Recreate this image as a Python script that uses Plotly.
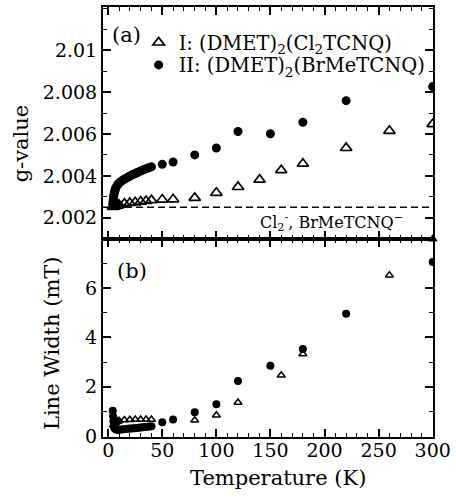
import plotly.graph_objects as go

# ---------------- data ----------------
# (a) g-value, compound I (open triangles)
T_I_g = [4.5, 5, 6, 7, 8, 9, 10, 15, 20, 25, 30, 35, 40, 50, 60, 80, 100, 120, 140, 160, 180, 220, 260, 300]
g_I = [2.00252, 2.00253, 2.00255, 2.00257, 2.00258, 2.00260, 2.00262, 2.00267, 2.00271, 2.00274, 2.00277, 2.00280, 2.00284,
       2.00287, 2.00288, 2.00295, 2.00319, 2.00347, 2.00382, 2.00427, 2.00458, 2.00533, 2.00615, 2.00647]

# (a) g-value, compound II (filled circles)
T_II_g = [4.2, 4.4, 4.6, 4.8, 5.0, 5.3, 5.6, 6.0, 6.5, 7, 8, 9, 10, 11, 12, 13.5, 15, 16.5, 18, 19.5, 21, 22.5, 24,
          25.5, 27, 28.5, 30, 32, 34, 36, 38, 40, 50, 60, 80, 100, 120, 150, 180, 220, 300]
g_II = [2.00262, 2.00270, 2.00279, 2.00289, 2.00299, 2.00309, 2.00318, 2.00327, 2.00335, 2.00342, 2.00352, 2.00359,
        2.00365, 2.00370, 2.00374, 2.00380, 2.00384, 2.00388, 2.00393, 2.00397, 2.00402, 2.00406, 2.00409, 2.00412,
        2.00416, 2.00420, 2.00423, 2.00428, 2.00432, 2.00436, 2.00440, 2.00443, 2.00455, 2.00466, 2.00500, 2.00533,
        2.00612, 2.00601, 2.00656, 2.00759, 2.00826]

# (b) line width, compound I (open triangles)
T_I_w = [5, 6, 7, 8, 9, 10, 15, 20, 25, 30, 35, 40, 80, 100, 120, 160, 180, 260, 300]
w_I = [0.45, 0.50, 0.55, 0.58, 0.60, 0.62, 0.65, 0.66, 0.67, 0.67, 0.67, 0.67, 0.64, 0.84, 1.36, 2.47, 3.33, 6.53, 8.0]

# (b) line width, compound II (filled circles)
T_II_w = [4.2, 4.5, 4.8, 5.2, 5.6, 6, 7, 8, 9, 10, 12, 14, 16, 18, 20, 22, 24, 26, 28, 30, 32, 34, 36, 38, 40,
          50, 60, 80, 100, 120, 150, 180, 220, 300]
w_II = [1.03, 0.80, 0.60, 0.45, 0.35, 0.30, 0.27, 0.25, 0.25, 0.25, 0.26, 0.27, 0.28, 0.29, 0.30, 0.31, 0.32,
        0.33, 0.34, 0.35, 0.36, 0.37, 0.38, 0.39, 0.40, 0.56, 0.67, 0.96, 1.29, 2.23, 2.85, 3.53, 4.96, 7.06]

g_ref = 2.0025  # Cl2TCNQ- / BrMeTCNQ- reference g value

x_ticks = [0, 50, 100, 150, 200, 250, 300]
g_ticks = [2.002, 2.004, 2.006, 2.008, 2.010]
g_tick_labels = ["2.002", "2.004", "2.006", "2.008", "2.01"]
w_ticks = [0, 2, 4, 6]
w_tick_labels = ["0", "2", "4", "6"]

name_I = "I: (DMET)<sub>2</sub>(Cl<sub>2</sub>TCNQ)"
name_II = "II: (DMET)<sub>2</sub>(BrMeTCNQ)"

# ---------------- figure ----------------
FONT = "DejaVu Serif"
split = 0.4606
xr = [-4.8, 300.3]

fig = go.Figure()

fig.add_trace(go.Scatter(x=T_I_g, y=g_I, mode="markers", name=name_I, legend="legend",
                         marker=dict(symbol="triangle-up-open", size=10, color="black", line=dict(width=1.7, color="black")),
                         xaxis="x", yaxis="y"))
fig.add_trace(go.Scatter(x=T_II_g, y=g_II, mode="markers", name=name_II, legend="legend2",
                         marker=dict(symbol="circle", size=9, color="black"),
                         xaxis="x", yaxis="y"))
fig.add_trace(go.Scatter(x=T_I_w, y=w_I, mode="markers", name=name_I, showlegend=False, cliponaxis=False,
                         marker=dict(symbol="triangle-up-open", size=7, color="black", line=dict(width=1.5, color="black")),
                         xaxis="x2", yaxis="y2"))
fig.add_trace(go.Scatter(x=T_II_w, y=w_II, mode="markers", name=name_II, showlegend=False,
                         marker=dict(symbol="circle", size=8, color="black"),
                         xaxis="x2", yaxis="y2"))

fig.add_shape(type="line", xref="x domain", yref="y", x0=0, x1=1, y0=g_ref, y1=g_ref,
              line=dict(color="black", width=1.5, dash="7px,4px"))

tickfont = dict(family=FONT, size=19, color="black")
common = dict(showline=True, linecolor="black", linewidth=2, mirror="allticks", ticks="inside",
              ticklen=8, tickwidth=1.5, tickcolor="black", showgrid=False, zeroline=False, tickfont=tickfont)
minor_style = dict(ticks="inside", ticklen=4, tickwidth=1.2, tickcolor="black")

fig.update_layout(
    width=456, height=499,
    margin=dict(l=103, r=19, t=5, b=62),
    paper_bgcolor="white", plot_bgcolor="white",
    font=dict(family=FONT, color="black"),
    xaxis=dict(domain=[0, 1], anchor="y", range=xr, tickmode="array", tickvals=x_ticks, showticklabels=False,
               minor=dict(dtick=10, tick0=0, **minor_style), **common),
    xaxis2=dict(domain=[0, 1], anchor="y2", range=xr, matches="x", tickmode="array", tickvals=x_ticks,
                showticklabels=True, ticklabeloverflow="allow", ticklabelstandoff=-5,
                minor=dict(dtick=10, tick0=0, **minor_style), **common),
    yaxis=dict(domain=[split, 1], anchor="x", range=[2.00099, 2.01206], tickmode="array",
               tickvals=g_ticks, ticktext=g_tick_labels,
               minor=dict(dtick=0.001, tick0=2.0, **minor_style), **common),
    yaxis2=dict(domain=[0, split], anchor="x2", range=[-0.04, 8.0], tickmode="array",
                tickvals=w_ticks, ticktext=w_tick_labels,
                minor=dict(dtick=1, tick0=0, **minor_style), **common),
    legend=dict(x=0.108, y=0.962, xanchor="left", yanchor="top", bgcolor="rgba(0,0,0,0)", borderwidth=0,
                font=dict(family=FONT, size=19.5, color="black"), itemwidth=30, tracegroupgap=0),
    legend2=dict(x=0.108, y=0.910, xanchor="left", yanchor="top", bgcolor="rgba(0,0,0,0)", borderwidth=0,
                 font=dict(family=FONT, size=19.5, color="black"), itemwidth=30, tracegroupgap=0),
)

ann_font = dict(family=FONT, size=21, color="black")
fig.add_annotation(text="(a)", xref="paper", yref="paper", x=0.0719, y=0.936, xanchor="center", yanchor="middle",
                   showarrow=False, font=ann_font)
fig.add_annotation(text="(b)", xref="paper", yref="paper", x=0.0868, y=0.3866, xanchor="center", yanchor="middle",
                   showarrow=False, font=ann_font)
fig.add_annotation(text="Cl<sub>2</sub><sup>-</sup>, BrMeTCNQ<sup>\u2212</sup>", xref="paper", yref="paper",
                   x=0.915, y=0.500, xanchor="right", yanchor="middle", showarrow=False,
                   font=dict(family=FONT, size=16, color="black"))
fig.add_annotation(text="Temperature (K)", xref="paper", yref="paper", x=(280 - 103) / 334, y=(437 - 478) / 432,
                   xanchor="center", yanchor="middle", showarrow=False, font=ann_font)
fig.add_annotation(text="g-value", xref="paper", yref="paper", x=(20 - 103) / 334, y=(437 - 142) / 432,
                   xanchor="center", yanchor="middle", showarrow=False, textangle=-90, font=ann_font)
fig.add_annotation(text="Line Width (mT)", xref="paper", yref="paper", x=(52 - 103) / 334, y=(437 - 343) / 432,
                   xanchor="center", yanchor="middle", showarrow=False, textangle=-90, font=ann_font)

fig.write_html("out.html", config={"displayModeBar": False},
               post_script="document.body.style.margin='0px';")
